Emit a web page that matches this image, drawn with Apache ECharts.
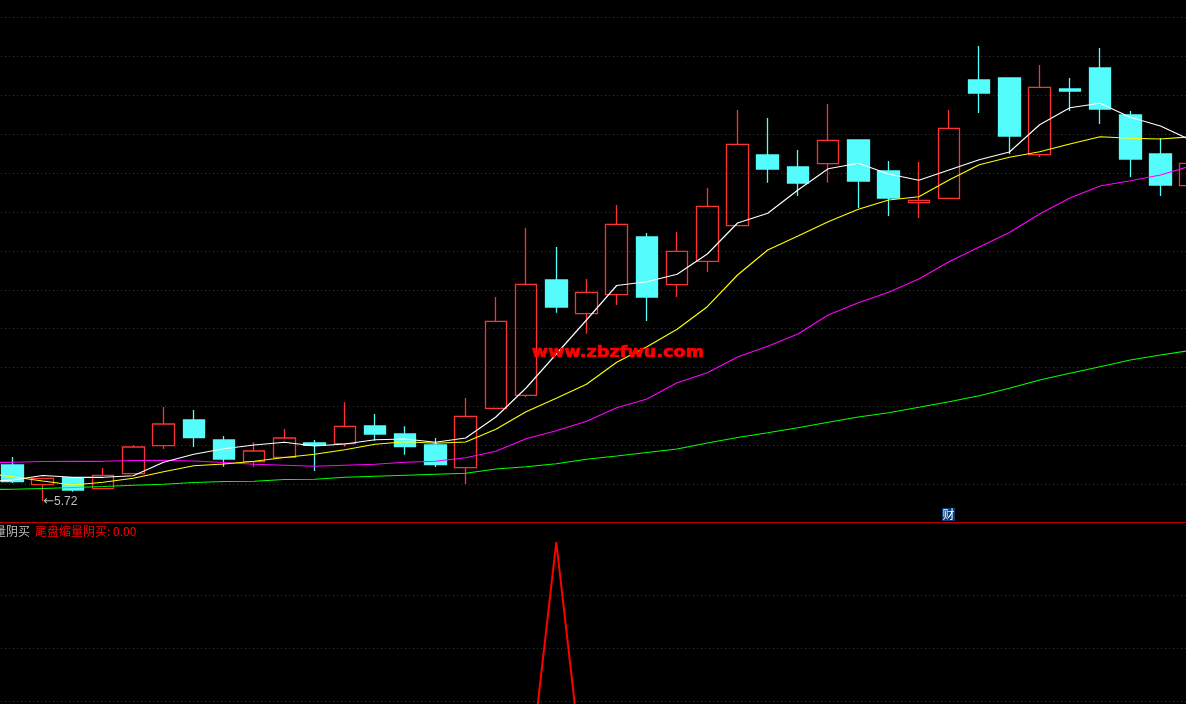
<!DOCTYPE html>
<html>
<head>
<meta charset="utf-8">
<title>尾盘缩量阴买</title>
<script src="https://cdn.jsdelivr.net/npm/echarts@6/dist/echarts.min.js"></script>
<style>
html, body { margin: 0; padding: 0; background: #000; overflow: hidden; }
#chart { width: 1186px; height: 704px; }
</style>
</head>
<body>
<div id="chart"></div>
<script>
// one slot per trading day, slot 0 only carries the averages coming in from the left
var days = [0,1,2,3,4,5,6,7,8,9,10,11,12,13,14,15,16,17,18,19,20,21,22,23,24,25,26,27,28,29,30,31,32,33,34,35,36,37,38,39,40];

var opens = [null,6.08,5.883,5.953,5.843,5.993,6.273,6.53,6.33,6.113,6.157,6.30,6.293,6.47,6.39,6.28,6.053,6.647,6.777,7.93,7.593,7.783,8.36,7.883,8.117,8.473,9.18,9.06,9.093,9.33,9.02,8.703,8.747,9.93,9.95,9.183,9.84,10.05,9.58,9.19,8.873];
var closes = [null,5.913,5.947,5.83,5.977,6.26,6.49,6.353,6.14,6.22,6.35,6.277,6.467,6.39,6.263,6.083,6.567,7.517,7.887,7.66,7.807,8.487,7.76,8.217,8.667,9.287,9.04,8.90,9.327,8.92,8.75,8.727,9.447,9.80,9.37,9.857,9.82,9.64,9.14,8.88,9.097];
var lows = [null,5.90,5.72,5.813,5.84,5.99,6.24,6.26,6.063,6.063,6.15,6.02,6.263,6.323,6.183,6.06,5.89,6.647,6.76,7.603,7.393,7.68,7.52,7.76,8.01,8.473,8.903,8.77,8.903,8.65,8.57,8.55,8.747,9.60,9.19,9.16,9.62,9.49,8.96,8.77,8.80];
var highs = [null,6.16,5.947,5.96,6.05,6.28,6.66,6.63,6.37,6.307,6.44,6.33,6.707,6.59,6.467,6.35,6.75,7.76,8.45,8.26,7.94,8.68,8.40,8.41,8.85,9.63,9.55,9.23,9.69,9.33,9.12,9.11,9.63,10.27,9.95,10.08,9.95,10.25,9.62,9.35,9.25];

var ma5 = [5.91,5.93,5.975,5.957,5.957,5.973,6.107,6.187,6.243,6.28,6.307,6.27,6.29,6.333,6.34,6.307,6.35,6.56,6.85,7.19,7.53,7.875,7.913,7.987,8.19,8.50,8.597,8.83,9.043,9.097,8.99,8.927,9.03,9.133,9.21,9.483,9.653,9.697,9.557,9.47,9.33];
var ma10 = [6.00,5.963,5.92,5.88,5.907,5.947,6.013,6.073,6.09,6.117,6.155,6.187,6.233,6.287,6.313,6.297,6.31,6.437,6.613,6.747,6.887,7.107,7.263,7.437,7.663,7.98,8.23,8.37,8.513,8.637,8.73,8.763,8.93,9.083,9.157,9.213,9.29,9.363,9.347,9.34,9.363];
var ma20 = [6.107,6.107,6.115,6.117,6.117,6.125,6.127,6.12,6.105,6.087,6.077,6.067,6.077,6.087,6.107,6.117,6.153,6.217,6.343,6.423,6.517,6.653,6.74,6.903,7.003,7.16,7.267,7.39,7.58,7.703,7.807,7.94,8.113,8.26,8.405,8.59,8.75,8.87,8.923,8.98,9.07];
var ma60 = [5.835,5.837,5.845,5.855,5.865,5.877,5.887,5.905,5.915,5.917,5.935,5.937,5.957,5.967,5.977,5.987,5.997,6.04,6.063,6.093,6.137,6.17,6.205,6.24,6.30,6.355,6.403,6.453,6.507,6.56,6.603,6.657,6.713,6.773,6.847,6.93,6.997,7.063,7.13,7.18,7.225];

var signal = [0,0,0,0,0,0,0,0,0,0,0,0,0,0,0,0,0,0,0,1,0,0,0,0,0,0,0,0,0,0,0,0,0,0,0,0,0,0,0,0,0];

var lowMark = 5.72;
var lowMarkDay = 2;
var signalName = "尾盘缩量阴买";
var signalText = "尾盘缩量阴买: 0.00";
var siteText = "www.zbzfwu.com";

var candles = days.map(function (d, i) {
  if (opens[i] === null) return "-";
  return [opens[i], closes[i], lows[i], highs[i]];
});

function maLine(name, data, color) {
  return {
    name: name,
    type: "line",
    data: data,
    showSymbol: false,
    smooth: false,
    silent: true,
    lineStyle: { color: color, width: 1.15 },
    z: 3,
  };
}

var dots = { color: "#b00000", width: 1, type: [1, 3], dashOffset: 2.19 };
var chart = echarts.init(document.getElementById("chart"));

chart.setOption({
  animation: false,
  backgroundColor: "#000",
  grid: [
    { left: -32.81, width: 1238.6, top: 17.3, height: 506, outerBoundsMode: "none" },
    { left: -32.81, width: 1238.6, top: 542, height: 265, outerBoundsMode: "none" },
  ],
  xAxis: [
    { type: "category", gridIndex: 0, data: days, show: false },
    { type: "category", gridIndex: 1, data: days, show: false },
  ],
  yAxis: [
    { type: "value", gridIndex: 0, min: 5.497, max: 10.557, show: false },
    // 13 rows of dotted lines, they are not at round prices
    {
      type: "value", gridIndex: 0, min: 0, max: 13, interval: 1,
      axisLine: { show: false }, axisTick: { show: false }, axisLabel: { show: false },
      splitLine: { show: true, showMinLine: false, lineStyle: dots },
    },
    {
      type: "value", gridIndex: 1, min: 0, max: 1, interval: 0.2,
      axisLine: { show: false }, axisTick: { show: false }, axisLabel: { show: false },
      splitLine: { show: true, showMaxLine: false, lineStyle: dots },
    },
  ],
  series: [
    {
      type: "candlestick",
      data: candles,
      barWidth: 22,
      silent: true,
      itemStyle: {
        color: "transparent",
        borderColor: "#ff3232",
        color0: "#54fcfc",
        borderColor0: "#54fcfc",
        borderWidth: 1.3,
      },
      markPoint: {
        symbol: "circle",
        symbolSize: 1,
        silent: true,
        itemStyle: { color: "transparent" },
        label: {
          show: true,
          position: "right",
          distance: 0,
          offset: [0, 1],
          formatter: "{a|←}{b|" + lowMark + "}",
          rich: {
            a: { color: "#c0c0c0", fontSize: 13, fontFamily: "DejaVu Sans" },
            b: { color: "#c0c0c0", fontSize: 12, fontFamily: "Liberation Sans" },
          },
        },
        data: [{ coord: [lowMarkDay, lowMark] }],
      },
      z: 2,
    },
    maLine("MA60", ma60, "#00ff00"),
    maLine("MA20", ma20, "#ff00ff"),
    maLine("MA10", ma10, "#ffff00"),
    maLine("MA5", ma5, "#ffffff"),
    {
      name: signalName,
      type: "line",
      xAxisIndex: 1,
      yAxisIndex: 2,
      data: signal,
      showSymbol: false,
      silent: true,
      lineStyle: { color: "#ff0000", width: 2 },
    },
  ],
  graphic: [
    { type: "rect", silent: true, shape: { x: 0, y: 522, width: 1186, height: 1 }, style: { fill: "#c00000" }, z: 10 },
    {
      type: "text", silent: true, x: 30, y: 525, z: 10,
      style: { text: signalName, fill: "#c0c0c0", font: '12px "Noto Sans CJK SC"', textAlign: "right" },
    },
    {
      type: "text", silent: true, x: 35, y: 525, z: 10,
      style: { text: signalText, fill: "#ff0000", font: '12px "Noto Sans CJK SC"' },
    },
    {
      type: "text", silent: true, x: 618, y: 346, scaleX: 1.18, z: 10,
      style: { text: siteText, fill: "#ff0000", stroke: "#ff0000", lineWidth: 0.6, font: 'bold 15px "DejaVu Sans"', textAlign: "center" },
    },
    { type: "rect", silent: true, shape: { x: 942, y: 508, width: 13, height: 13 }, style: { fill: "#0a3c78" }, z: 10 },
    {
      type: "text", silent: true, x: 948.5, y: 508, z: 11,
      style: { text: "财", fill: "#ffffff", font: '12px "Noto Sans CJK SC"', textAlign: "center" },
    },
  ],
});
</script>
</body>
</html>
